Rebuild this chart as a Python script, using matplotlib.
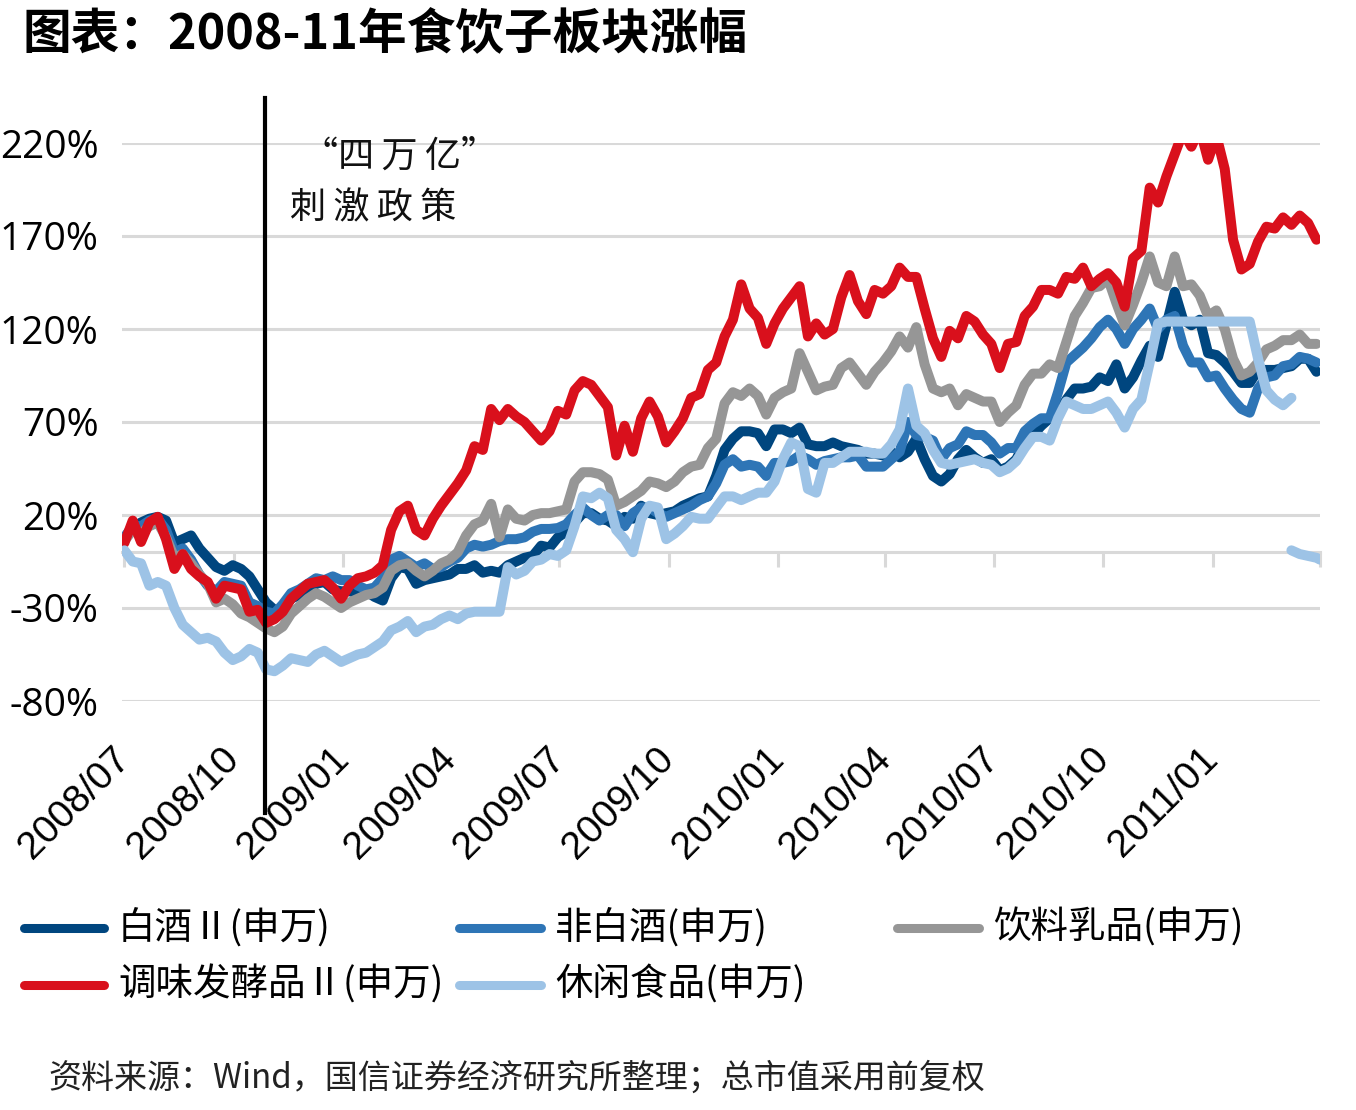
import matplotlib.pyplot as plt
from matplotlib.lines import Line2D
import numpy as np
import pandas as pd

plt.rcParams['font.family'] = ['Noto Sans CJK SC', 'DejaVu Sans']

# weekly points, cumulative change in % since 2008-07-01
dates = pd.date_range('2008-07-01', periods=144, freq='7D')

baijiu = [7, 13, 16, 18, 19, 17, 5, 7, 9, 2, -3, -8,
          -10, -7, -9, -13, -20, -27, -31, -31, -25, -23, -21, -17,
          -16, -20, -21, -21, -22, -21, -24, -26, -14, -8, -9, -17,
          -15, -14, -13, -12, -9, -9, -7, -11, -10, -11, -7, -5,
          -3, -2, 3.5, 2.5, 8, 11, 16, 21, 21, 18, 17, 14,
          19, 18, 25, 21, 20, 21, 22, 25, 27, 29, 30, 41,
          55, 61, 65, 65, 64, 57, 66, 66, 64, 67, 58, 57,
          57, 59, 57, 56, 55, 53, 53, 52, 54, 51, 54, 61,
          50, 41, 38, 42, 50, 55, 51, 48, 50, 44, 46, 50,
          59, 63, 68, 72, 75, 82, 88, 88, 89, 94, 92, 101,
          88, 94, 103, 111, 105, 122, 140, 125, 122, 125, 107, 106,
          102, 97, 91, 91, 98, 98, 98, 99, 100, 104, 104, 97]

non_baijiu = [8, 14, 14, 17, 18, 12, 0, 2, -4, -12, -18, -21,
              -16, -17, -18, -27, -29, -32, -33, -28, -22, -20, -17, -14,
              -15, -13, -15, -15, -18, -20, -19, -14, -4, -2, -5, -8,
              -6, -9, -8, -5, -3, 2, 4, 3, 4, 6, 7, 7,
              8, 11, 12.5, 12.5, 13, 15, 20, 24, 20, 17, 20, 20,
              14, 21, 24, 24, 21, 19, 21, 23, 25, 28, 30, 37,
              47, 50, 46, 47, 46, 41, 48, 48, 49, 52, 50, 47,
              49, 50, 51, 51, 52, 46, 46, 46, 50, 54, 70, 63,
              62, 60, 50, 56, 58, 65, 63, 63, 59, 53, 56, 56,
              65, 69, 72, 72, 86, 102, 106, 110, 115, 121, 125, 120,
              112, 120, 125, 131, 120, 125, 127, 111, 102, 102, 94, 95,
              88, 82, 77, 75, 88, 94, 95, 100, 101, 105, 104, 102]

beverage_dairy = [6, 12, 10, 14, 16, 8, -3, -1, -6, -12, -17, -27,
                  -25, -28, -33, -35, -38, -41, -43, -40, -33, -29, -25, -22,
                  -24, -27, -30, -27, -25, -23, -22, -19, -10, -7, -6, -10,
                  -13, -10, -6, -4, 0, 9, 15, 17, 26, 8, 23, 18,
                  17, 20, 21, 21, 22, 23, 38, 43, 43, 42, 39, 25,
                  27, 30, 33, 38, 37, 35, 38, 43, 46, 47, 56, 61,
                  80, 86, 84, 88, 84, 74, 83, 86, 88, 107, 97, 87,
                  89, 90, 99, 102, 96, 90, 97, 102, 108, 116, 110, 121,
                  101, 88, 86, 88, 79, 85, 83, 81, 81, 70, 75, 79,
                  90, 96, 96, 101, 99, 113, 127, 134, 142, 143, 147, 134,
                  122, 133, 145, 159, 145, 143, 159, 143, 144, 138, 127, 130,
                  120, 104, 95, 97, 102, 109, 111, 114, 114, 117, 112, 112]

condiment = [5, 17, 5.5, 16, 19, 7, -9, -1, -9, -13, -16, -25,
             -18, -19, -20, -32, -31, -38, -36, -32, -25, -21, -17, -16,
             -15, -19, -25, -18, -14, -13, -11, -7, 12, 22, 25, 12,
             9, 18, 25, 31, 37, 44, 57, 55, 77, 71, 77, 73,
             70, 65, 60, 65, 76, 74, 87, 92, 90, 84, 78, 52,
             68, 54, 72, 81, 73, 59, 65, 72, 83, 85, 98, 102,
             116, 125, 144, 131, 126, 112, 123, 131, 137, 143, 116, 123,
             117, 120, 137, 149, 135, 128, 141, 139, 143, 153, 148, 148,
             131, 115, 105, 119, 115, 127, 124, 117, 112, 99, 112, 113,
             127, 132, 141, 141, 139, 148, 147, 153, 143, 147, 150, 145,
             132, 158, 162, 196, 188, 202, 214, 226, 218, 228, 211, 224,
             206, 168, 152, 155, 167, 175, 174, 180, 176, 181, 177, 168]

snack = [1, -5, -6, -18, -16, -18, -30, -39, -43, -47, -46, -48,
         -54, -58, -56, -52, -54, -63, -64, -61, -57, -58, -59, -55,
         -53, -56, -59, -57, -55, -54, -51, -48, -42, -40, -37, -43,
         -40, -39, -36, -34, -36, -33, -32, -32, -32, -32, -8, -12,
         -10, -5, -4, -1, -2, 1, 14, 30, 29, 32, 29, 12,
         7, 0, 18, 25, 24, 7, 10, 14, 19, 18, 18, 24,
         30, 30, 28, 30, 32, 32, 38, 50, 59, 57, 34, 32,
         48, 48, 51, 54, 54, 54, 53, 53, 58, 66, 88, 68,
         64, 55, 48, 47, 48, 49, 50, 48, 47, 43, 45, 49,
         56, 62, 62, 60, 72, 81, 79, 77, 77, 79, 81, 75,
         67, 77, 82, 102, 123, 124, 124, 124, 124, 124, 124, 124,
         124, 124, 124, 124, 104, 87, 82, 79, 83, np.nan, np.nan, np.nan]

# the snack index restarts near zero at the very end
snack_tail_dates = pd.to_datetime(['2011-03-08', '2011-03-15', '2011-03-22', '2011-03-29', '2011-04-01'])
snack_tail = [1, -1, -2, -3, -4]

names = ['白酒Ⅱ(申万)', '非白酒(申万)', '饮料乳品(申万)', '调味发酵品Ⅱ(申万)', '休闲食品(申万)']
colors = ['#00467F', '#2E75B6', '#969696', '#D9101C', '#9DC3E6']

quarters = pd.date_range('2008-07-01', '2011-04-01', freq='QS')
quarter_labels = [d.strftime('%Y/%m') for d in quarters[:-1]] + ['']
yticks = [-80, -30, 20, 70, 120, 170, 220]
event_date = pd.Timestamp('2008-10-27')

W, H = 1356, 1110
fig = plt.figure(figsize=(W / 100, H / 100), dpi=100)
ax = fig.add_axes([122 / W, 1 - 701 / H, (1320 - 122) / W, (701 - 143) / H])

all_series = [baijiu, non_baijiu, beverage_dairy, condiment, snack]
for vals, c, name in zip(all_series, colors, names):
    ax.plot(dates, vals, color=c, lw=7.2, solid_joinstyle='round',
            solid_capstyle='round', label=name, zorder=3)
ax.plot(snack_tail_dates, snack_tail, color=colors[4], lw=7.2,
        solid_joinstyle='round', solid_capstyle='round', zorder=3)

ax.set_xlim(pd.Timestamp('2008-06-29'), pd.Timestamp('2011-04-01'))
ax.set_ylim(-80, 220)

# grid + axis at zero
ax.set_yticks(yticks)
ax.set_yticklabels([f'{v}%' for v in yticks], fontfamily='Open Sans', fontsize=28)
ax.tick_params(axis='y', length=0, pad=17)
ax.grid(axis='y', color='#D9D9D9', lw=2.2)
ax.set_axisbelow(True)
for s in ['left', 'right', 'top']:
    ax.spines[s].set_visible(False)
ax.spines['bottom'].set_position(('data', 0))
ax.spines['bottom'].set_color('#D9D9D9')
ax.spines['bottom'].set_linewidth(2.2)

ax.set_xticks(quarters)
ax.set_xticklabels(quarter_labels, fontfamily='Liberation Sans', fontsize=28)
ax.tick_params(axis='x', direction='out', length=11, width=2.2, color='#D9D9D9', pad=134)
for lab in ax.get_xticklabels():
    lab.set_rotation(45)
    lab.set_ha('right')
    lab.set_va('center')
    lab.set_rotation_mode('anchor')

# "四万亿" marker line
ax.axvline(event_date, ymin=(701 - 813) / 558, ymax=(701 - 98) / 558,
           color='black', lw=3, clip_on=False, zorder=5)
fig.text(302 / W, 1 - 157 / H, '“四\u2009万\u2009亿”', fontsize=26, va='center',
         color='#111111')
fig.text(290 / W, 1 - 208 / H, '刺\u2009激\u2009政\u2009策', fontsize=26, va='center',
         color='#111111')

# title
fig.text(22 / W, 1 - 35 / H, '图表：2008-11年食饮子板块涨幅', fontsize=35,
         fontweight='bold', va='center')

# legend drawn by hand (fixed column positions)
leg_pos = [(20, 108, 928), (455, 545, 928), (893, 983, 928), (20, 108, 985), (455, 545, 985)]
for (x0, x1, y), c, name in zip(leg_pos, colors, names):
    fig.add_artist(Line2D([(x0 + 4) / W, (x1 - 4) / W], [1 - y / H, 1 - y / H],
                          transform=fig.transFigure, color=c, lw=6.5, solid_capstyle='round'))
    fig.text((x1 + 10) / W, 1 - y / H, name, fontsize=27, va='center')

fig.text(48 / W, 1 - 1078 / H, '资料来源：Wind，国信证券经济研究所整理；总市值采用前复权',
         fontsize=23.8, va='center', color='#222222')

fig.savefig('out.png', dpi=100)
